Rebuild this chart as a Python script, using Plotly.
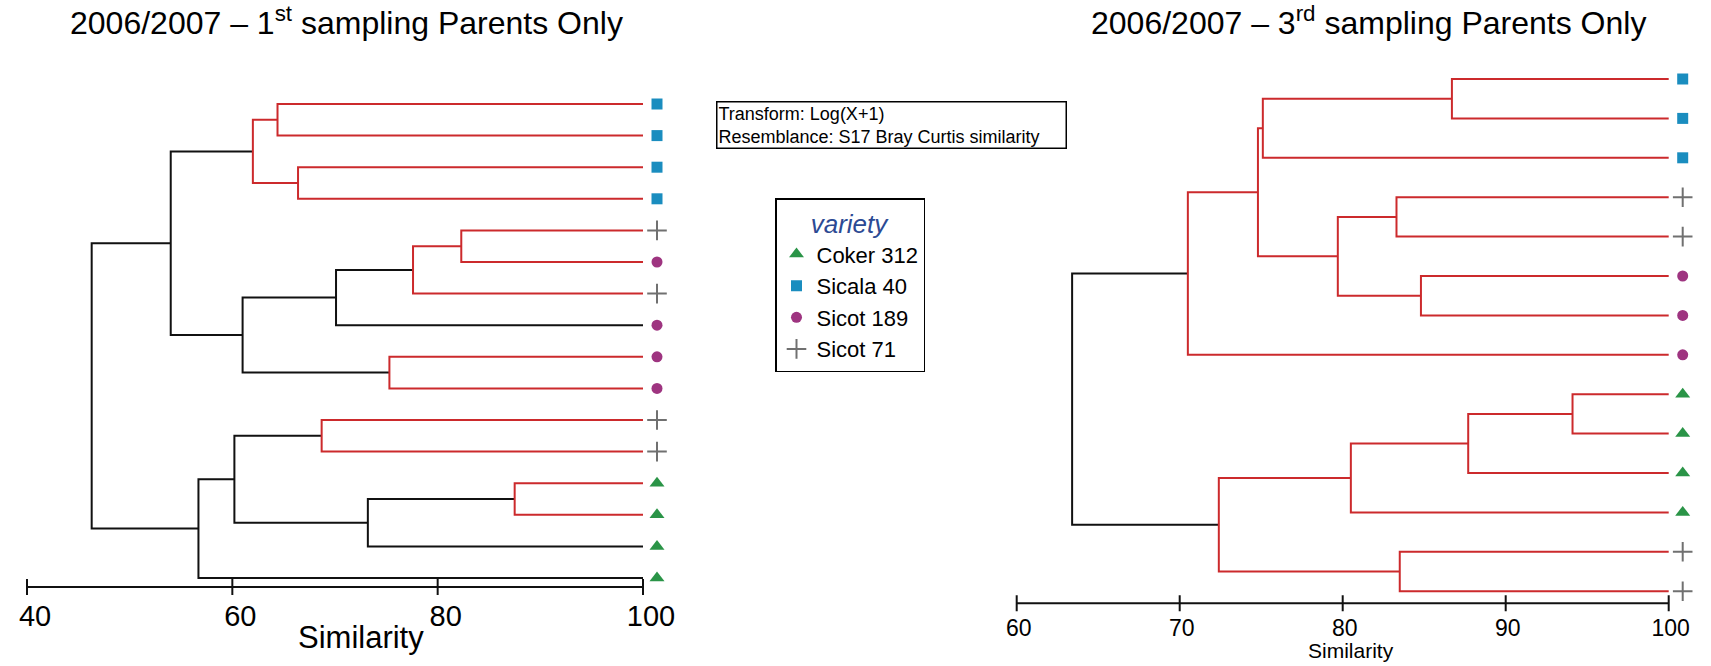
import plotly.graph_objects as go

W, H = 1711, 666
FONT = "Liberation Sans, Arial, Helvetica, sans-serif"
RED = "#cc2a2c"
BLACK = "#111111"

# ---------------- data ----------------
varieties = ["Coker 312", "Sicala 40", "Sicot 189", "Sicot 71"]
var_colors = ["#2a9447", "#1a8dbf", "#9e3480", "#707070"]
var_symbols = ["triangle-up", "square", "circle", "cross-thin"]
var_sizes = [13, 11, 11, 14]

# left dendrogram (1st sampling): leaves top to bottom
left_leaves = ["Sicala 40", "Sicala 40", "Sicala 40", "Sicala 40",
               "Sicot 71", "Sicot 189", "Sicot 71", "Sicot 189",
               "Sicot 189", "Sicot 189", "Sicot 71", "Sicot 71",
               "Coker 312", "Coker 312", "Coker 312", "Coker 312"]
# merges: child a, child b (leaves 0..n-1, internal nodes n..), similarity, significant(red)
left_a = [0, 2, 16, 4, 19, 20, 8, 21, 18, 10, 12, 26, 25, 28, 24]
left_b = [1, 3, 17, 5, 6, 7, 9, 22, 23, 11, 13, 14, 27, 15, 29]
left_sim = [64.4, 66.4, 62.0, 82.3, 77.6, 70.1, 75.3, 61.0, 54.0, 68.7, 87.5, 73.2, 60.2, 56.7, 46.3]
left_sig = [1, 1, 1, 1, 1, 0, 1, 0, 0, 1, 1, 0, 0, 0, 0]
left_ticks = [40, 60, 80, 100]

# right dendrogram (3rd sampling)
right_leaves = ["Sicala 40", "Sicala 40", "Sicala 40", "Sicot 71", "Sicot 71",
                "Sicot 189", "Sicot 189", "Sicot 189",
                "Coker 312", "Coker 312", "Coker 312", "Coker 312",
                "Sicot 71", "Sicot 71"]
right_a = [0, 14, 3, 5, 16, 15, 19, 8, 21, 22, 12, 23, 20]
right_b = [1, 2, 4, 6, 17, 18, 7, 9, 10, 11, 13, 24, 25]
right_sim = [86.7, 75.1, 83.3, 84.8, 79.7, 74.8, 70.5, 94.1, 87.7, 80.5, 83.5, 72.4, 63.4]
right_sig = [1, 1, 1, 1, 1, 1, 1, 1, 1, 1, 1, 1, 0]
right_ticks = [60, 70, 80, 90, 100]

# ---------------- layout geometry (px) ----------------
panels = [
    dict(leaves=left_leaves, a=left_a, b=left_b, sim=left_sim, sig=left_sig, ticks=left_ticks,
         x0=27, x1=643, leaf1=104, step=31.6, axis_y=587, top=80,
         tickfont=29, labshift=8, xname="x", yname="y", legend=True,
         sim_lbl=(361, 637, 31), title="2006/2007 – 1<sup>st</sup> sampling Parents Only",
         title_x=346),
    dict(leaves=right_leaves, a=right_a, b=right_b, sim=right_sim, sig=right_sig, ticks=right_ticks,
         x0=1016.7, x1=1668.7, leaf1=79, step=39.4, axis_y=603.3, top=55,
         tickfont=23, labshift=2, xname="x2", yname="y2", legend=False,
         sim_lbl=(1351, 650, 21), title="2006/2007 – 3<sup>rd</sup> sampling Parents Only",
         title_x=1368),
]

PAD_L, PAD_R, PAD_B = 4, 28, 9

fig = go.Figure()
annotations = []
layout_axes = {}

for i, p in enumerate(panels):
    leaves = p["leaves"]
    n = len(leaves)
    ypos = [float(k + 1) for k in range(n)]
    xpos = [100.0] * n
    for a, b, h in zip(p["a"], p["b"], p["sim"]):
        ypos.append((ypos[a] + ypos[b]) / 2)
        xpos.append(h)
    segs = {1: ([], []), 0: ([], [])}
    for a, b, h, s in zip(p["a"], p["b"], p["sim"], p["sig"]):
        xs, ys = segs[s]
        xs += [xpos[a], h, h, xpos[b], None]
        ys += [ypos[a], ypos[a], ypos[b], ypos[b], None]
    for s, col in ((0, BLACK), (1, RED)):
        xs, ys = segs[s]
        fig.add_trace(go.Scatter(x=xs, y=ys, mode="lines", xaxis=p["xname"], yaxis=p["yname"],
                                 line=dict(color=col, width=2), showlegend=False, hoverinfo="skip"))

    xmin = min(p["ticks"])
    xmax = max(p["ticks"])
    ppu = (p["x1"] - p["x0"]) / (xmax - xmin)
    mx = xmax + 14 / ppu
    for v, c, sym, sz in zip(varieties, var_colors, var_symbols, var_sizes):
        ys = [ypos[k] for k in range(n) if leaves[k] == v]
        mk = dict(symbol=sym, size=sz, color=c)
        if sym == "cross-thin":
            mk["line"] = dict(width=2, color=c)
        else:
            mk["line"] = dict(width=0)
        fig.add_trace(go.Scatter(x=[mx] * len(ys), y=ys, mode="markers", name=v,
                                 xaxis=p["xname"], yaxis=p["yname"], marker=mk,
                                 cliponaxis=False, showlegend=p["legend"], legendgroup=v))

    axis_val = 1 + (p["axis_y"] - p["leaf1"]) / p["step"]
    bottom_val = 1 + (p["axis_y"] + PAD_B - p["leaf1"]) / p["step"]
    top_val = 1 + (p["top"] - p["leaf1"]) / p["step"]
    tick_half = 8 / p["step"]
    # axis bar + crossing tick marks
    tx, ty = [xmin, xmax, None], [axis_val, axis_val, None]
    for t in p["ticks"]:
        tx += [t, t, None]
        ty += [axis_val - tick_half, axis_val + tick_half, None]
    fig.add_trace(go.Scatter(x=tx, y=ty, mode="lines", xaxis=p["xname"], yaxis=p["yname"],
                             line=dict(color=BLACK, width=2), showlegend=False, hoverinfo="skip"))

    xkey = "xaxis" if i == 0 else "xaxis2"
    ykey = "yaxis" if i == 0 else "yaxis2"
    layout_axes[xkey] = dict(domain=[(p["x0"] - PAD_L) / W, (p["x1"] + PAD_R) / W],
                             range=[xmin - PAD_L / ppu, xmax + PAD_R / ppu],
                             anchor=p["yname"], showline=False, ticks="",
                             tickvals=p["ticks"], ticktext=[str(t) for t in p["ticks"]],
                             tickfont=dict(size=p["tickfont"], color="black", family=FONT),
                             ticklabelshift=p["labshift"], automargin=False,
                             showgrid=False, zeroline=False, fixedrange=True)
    layout_axes[ykey] = dict(domain=[1 - (p["axis_y"] + PAD_B) / H, 1 - p["top"] / H],
                             range=[bottom_val, top_val], anchor=p["xname"], visible=False,
                             automargin=False,
                             showgrid=False, zeroline=False, fixedrange=True)

    sx, sy, sf = p["sim_lbl"]
    annotations.append(dict(text="Similarity", x=sx / W, y=1 - sy / H, xref="paper", yref="paper",
                            xanchor="center", yanchor="middle", showarrow=False,
                            font=dict(size=sf, color="black", family=FONT)))
    annotations.append(dict(text=p["title"], x=p["title_x"] / W, y=1 - 21 / H, xref="paper",
                            yref="paper", xanchor="center", yanchor="middle", showarrow=False,
                            font=dict(size=32, color="black", family=FONT)))

annotations.append(dict(text="Transform: Log(X+1)<br>Resemblance: S17 Bray Curtis similarity",
                        x=716 / W, y=1 - 101 / H, xref="paper", yref="paper",
                        xanchor="left", yanchor="top", align="left", showarrow=False,
                        width=346, borderpad=1, bordercolor="black", borderwidth=1.5,
                        font=dict(size=18, color="black", family=FONT)))

fig.update_layout(
    width=W, height=H, autosize=False,
    margin=dict(l=0, r=0, t=0, b=0, autoexpand=False),
    paper_bgcolor="white", plot_bgcolor="white",
    font=dict(family=FONT, color="black"),
    annotations=annotations,
    legend=dict(x=775 / W, y=1 - 198 / H, xanchor="left", yanchor="top",
                bordercolor="black", borderwidth=1.5, bgcolor="white",
                font=dict(size=22, color="black", family=FONT),
                title=dict(text="variety", side="top center",
                           font=dict(size=26, color="#2c4a94", family=FONT, style="italic")),
                tracegroupgap=0, itemwidth=30),
    showlegend=True,
    **layout_axes,
)

fig.write_html("out.html")
